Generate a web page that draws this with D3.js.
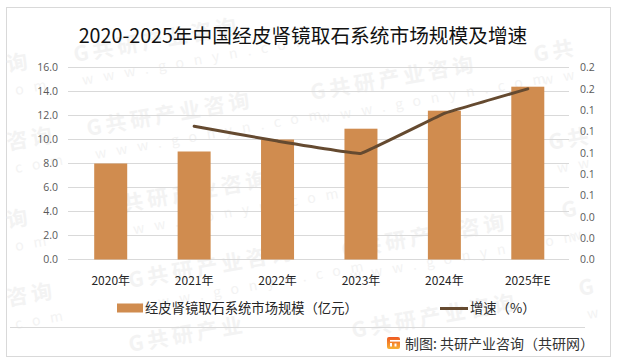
<!DOCTYPE html>
<html>
<head>
<meta charset="utf-8">
<script src="https://cdnjs.cloudflare.com/ajax/libs/d3/7.8.5/d3.min.js"></script>
<style>
  html, body { margin: 0; padding: 0; background: #fff; }
  text { font-family: "Noto Sans CJK SC", "Noto Sans", sans-serif; }
</style>
</head>
<body>
<div id="chart-area"></div>
<script>
const years = ['2020年', '2021年', '2022年', '2023年', '2024年', '2025年E'];
const marketSize = [8.0, 9.0, 10.0, 10.9, 12.4, 14.4];
const growth = [null, 0.125, 0.111, 0.0995, 0.137, 0.16];
const leftTicks = [0, 2, 4, 6, 8, 10, 12, 14, 16];
const rightTicks = [0, 0.02, 0.04, 0.06, 0.08, 0.1, 0.12, 0.14, 0.16, 0.18];
const title = '2020-2025年中国经皮肾镜取石系统市场规模及增速';
const barName = '经皮肾镜取石系统市场规模（亿元）';
const lineName = '增速（%）';
const source = '制图: 共研产业咨询（共研网）';

// watermark anchors
const markX = [75, 88, 312, 130, 343, 105, 353, 130, 535, 550, 563, 580, 8, 8, 8, 8];
const markY = [62, 136, 100, 288, 258, 215, 338, 352, 62, 150, 218, 296, 72, 150, 228, 306];
const markName = ['G共研产业咨询', 'G共研产业咨询', 'G共研产业咨询', 'G共研产业咨询', 'G共研产业咨询', 'G共研产业咨询',
  'G共研产业咨询', 'G共研产业', 'G共', 'G共', 'G', 'G', '询', '咨询', '询', '咨询'];
const markSite = ['www.gonyn.com', 'www.gonyn.com', 'www.gonyn.com', 'www.gonyn.com', 'www.gonyn.com', 'www.gonyn.com',
  '', '', 'ww', 'ww', 'w', 'w', 'om', 'com', 'om', 'com'];

const svg = d3.select('#chart-area')
  .append('svg')
  .attr('width', 619)
  .attr('height', 362)
  .style('display', 'block');

// Outer frame
svg.append('rect')
  .attr('x', 6.5).attr('y', 7.5)
  .attr('width', 604).attr('height', 349)
  .attr('fill', '#fff')
  .attr('stroke', '#d9d9d9')
  .attr('stroke-width', 1);

const x = d3.scaleBand().domain(years).range([69, 569.5]);
const y = d3.scaleLinear().domain([0, 16]).range([259.5, 67.5]);
const yRight = d3.scaleLinear().domain([0, 0.18]).range([259.5, 67.5]);

// Watermarks
const marks = svg.append('g').attr('fill', '#f3f3f3');
markX.forEach((mx, i) => {
  const wm = marks.append('g')
    .attr('transform', `translate(${mx}, ${markY[i]}) rotate(-10)`);
  wm.append('text')
    .attr('font-size', 21)
    .attr('font-weight', 700)
    .attr('letter-spacing', 4)
    .text(markName[i]);
  wm.append('text')
    .attr('x', 4)
    .attr('y', 24)
    .attr('font-size', 14)
    .attr('letter-spacing', 10)
    .text(markSite[i]);
});

// Gridlines
svg.append('g')
  .selectAll('line')
  .data(leftTicks)
  .join('line')
  .attr('x1', 68).attr('x2', 569)
  .attr('y1', d => y(d)).attr('y2', d => y(d))
  .attr('stroke', '#d9d9d9')
  .attr('stroke-width', 1);

// Left axis
const yAxisCall = d3.axisLeft(y).tickValues(leftTicks).tickSize(0).tickPadding(10)
  .tickFormat(d => d.toFixed(1));
const yAxisGroup = svg.append('g')
  .attr('transform', 'translate(68, 0)')
  .call(yAxisCall);
yAxisGroup.select('.domain').remove();
yAxisGroup.selectAll('text')
  .attr('font-size', 10.5).attr('fill', '#595959')
  .style('font-family', '"Open Sans", sans-serif');

// Right axis
const yRightCall = d3.axisRight(yRight).tickValues(rightTicks).tickSize(0).tickPadding(11)
  .tickFormat(d => d.toFixed(1));
const yRightGroup = svg.append('g')
  .attr('transform', 'translate(569, 0)')
  .call(yRightCall);
yRightGroup.select('.domain').remove();
yRightGroup.selectAll('text')
  .attr('font-size', 10.5).attr('fill', '#595959')
  .style('font-family', '"Open Sans", sans-serif');

// X axis
const xAxisCall = d3.axisBottom(x).tickSize(0).tickPadding(17);
const xAxisGroup = svg.append('g')
  .attr('transform', 'translate(0, 259.5)')
  .call(xAxisCall);
xAxisGroup.select('.domain').remove();
xAxisGroup.selectAll('text')
  .attr('font-size', 12).attr('fill', '#262626');

// Bars
const barW = 33;
svg.append('g')
  .selectAll('rect')
  .data(marketSize)
  .join('rect')
  .attr('x', (d, i) => x(years[i]) + x.bandwidth() / 2 - barW / 2)
  .attr('y', d => y(d))
  .attr('width', barW)
  .attr('height', d => y(0) - y(d))
  .attr('fill', '#d08c4f');

// Growth line
const line = d3.line()
  .defined(d => d !== null)
  .x((d, i) => x(years[i]) + x.bandwidth() / 2)
  .y(d => yRight(d))
  .curve(d3.curveCardinal.tension(0.85));
svg.append('path')
  .datum(growth)
  .attr('d', line)
  .attr('fill', 'none')
  .attr('stroke', '#654a30')
  .attr('stroke-width', 3)
  .attr('stroke-linecap', 'round');

// Title
svg.append('text')
  .attr('x', 303).attr('y', 43)
  .attr('text-anchor', 'middle')
  .attr('font-size', 19.7)
  .attr('fill', '#111')
  .text(title);

// Legend
svg.append('rect')
  .attr('x', 117).attr('y', 303.5)
  .attr('width', 26).attr('height', 9)
  .attr('fill', '#d08c4f');
svg.append('text')
  .attr('x', 145).attr('y', 313)
  .attr('font-size', 13.3).attr('fill', '#262626')
  .text(barName);
svg.append('line')
  .attr('x1', 440).attr('x2', 468)
  .attr('y1', 308.5).attr('y2', 308.5)
  .attr('stroke', '#654a30')
  .attr('stroke-width', 3);
svg.append('text')
  .attr('x', 470).attr('y', 313)
  .attr('font-size', 13.3).attr('fill', '#262626')
  .text(lineName);

// Footer rule and source
svg.append('line')
  .attr('x1', 10).attr('x2', 585)
  .attr('y1', 327.5).attr('y2', 327.5)
  .attr('stroke', '#d9d9d9');

// Logo
const logoFill = svg.append('defs').append('linearGradient')
  .attr('id', 'logo-fill')
  .attr('x1', 0).attr('y1', 0).attr('x2', 0).attr('y2', 1);
logoFill.append('stop').attr('offset', 0).attr('stop-color', '#ee5a24');
logoFill.append('stop').attr('offset', 1).attr('stop-color', '#f9b233');
svg.append('rect')
  .attr('x', 387).attr('y', 337)
  .attr('width', 13).attr('height', 12)
  .attr('rx', 2)
  .attr('fill', 'url(#logo-fill)');
svg.append('rect')
  .attr('x', 390).attr('y', 340)
  .attr('width', 10).attr('height', 1.6)
  .attr('fill', '#fff');
svg.append('rect')
  .attr('x', 390).attr('y', 343)
  .attr('width', 2).attr('height', 3.5)
  .attr('fill', '#fff');
svg.append('rect')
  .attr('x', 394.5).attr('y', 343.5)
  .attr('width', 2).attr('height', 3)
  .attr('fill', '#fff');

svg.append('text')
  .attr('x', 405).attr('y', 349)
  .attr('font-size', 14).attr('fill', '#333')
  .text(source);
</script>
</body>
</html>
